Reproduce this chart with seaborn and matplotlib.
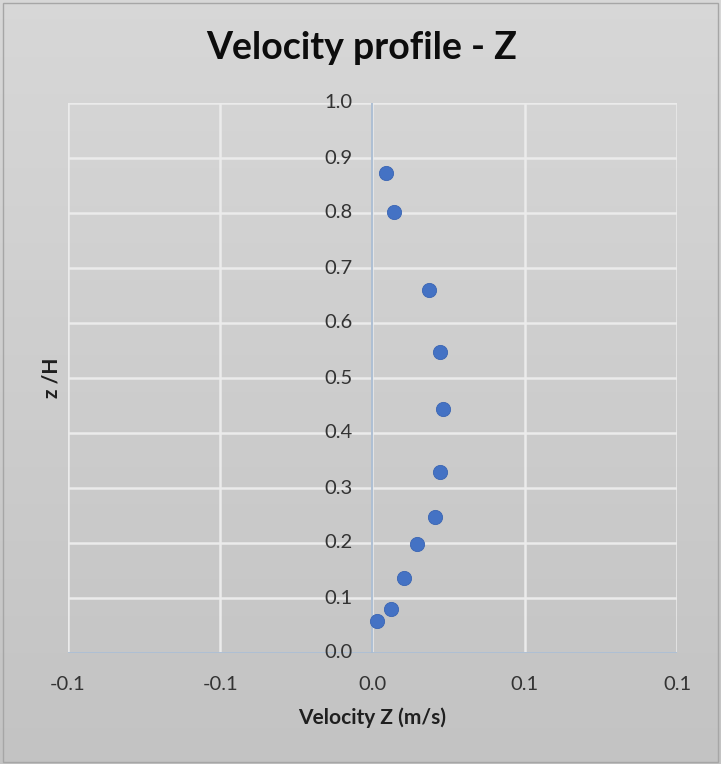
import numpy as np
import pandas as pd
import matplotlib
matplotlib.use("Agg")
import matplotlib.pyplot as plt
import seaborn as sns

# Measured vertical velocity profile
velocity_z = [0.0043, 0.0072, 0.0184, 0.0223, 0.0233, 0.0223, 0.0204, 0.0145, 0.0102, 0.0062, 0.0016]
z_over_h = [0.873, 0.802, 0.660, 0.547, 0.444, 0.329, 0.247, 0.198, 0.136, 0.080, 0.058]

x_ticks = [-0.1, -0.05, 0.0, 0.05, 0.1]
x_tick_labels = ["-0.1", "-0.1", "0.0", "0.1", "0.1"]
y_ticks = [0.0, 0.1, 0.2, 0.3, 0.4, 0.5, 0.6, 0.7, 0.8, 0.9, 1.0]
y_tick_labels = [f"{v:.1f}" for v in y_ticks]

df = pd.DataFrame({"Velocity Z (m/s)": velocity_z, "z /H": z_over_h})

sns.set_theme(style="white")
plt.rcParams["font.family"] = ["Lato", "DejaVu Sans"]

W, H = 721, 764
fig = plt.figure(figsize=(W / 100, H / 100), dpi=100)

# Chart-area background: soft vertical grey gradient
bg = fig.add_axes([0, 0, 1, 1], zorder=-10)
grad = np.linspace(0.845, 0.765, 256).reshape(-1, 1)
bg.imshow(np.dstack([grad, grad, grad]), aspect="auto", extent=[0, 1, 0, 1])
bg.set_axis_off()
fig.patches.append(plt.Rectangle((3 / W, 2 / H), 715 / W, 759 / H, transform=fig.transFigure,
                                 fill=False, edgecolor="#a6a6a6", linewidth=1.0))

left, right, top, bottom = 68, 677, 103, 653
ax = fig.add_axes([left / W, (H - bottom) / H, (right - left) / W, (bottom - top) / H])
ax.patch.set_alpha(0)

sns.scatterplot(data=df, x="Velocity Z (m/s)", y="z /H", ax=ax, s=105,
                color="#4472c4", edgecolor="#3a65b3", linewidth=0.6, zorder=5)

ax.set_xlim(-0.1, 0.1)
ax.set_ylim(0, 1.0)
ax.set_xticks(x_ticks)
ax.set_yticks(y_ticks)
ax.set_xticklabels([])
ax.set_yticklabels([])
ax.tick_params(length=0)
ax.grid(True, color="#ebebeb", linewidth=1.8)
for s in ax.spines.values():
    s.set_visible(False)

axis_col = "#a9bcd2"
ax.axvline(0, color=axis_col, linewidth=1.3, zorder=3)
ax.axhline(0, color=axis_col, linewidth=1.3, zorder=3)

tick_kw = dict(fontsize=14.5, color="#333333")
for v, lab in zip(y_ticks, y_tick_labels):
    ax.annotate(lab, xy=(0, v), xycoords="data", xytext=(-14.5, 0), textcoords="offset points",
                ha="right", va="center", **tick_kw)
for v, lab in zip(x_ticks, x_tick_labels):
    ax.annotate(lab, xy=(v, 0), xycoords="data", xytext=(0, -22.5), textcoords="offset points",
                ha="center", va="center", **tick_kw)

ax.set_xlabel("")
ax.set_ylabel("")
fig.text(372 / W, 1 - 718 / H, "Velocity Z (m/s)", ha="center", va="center",
         fontsize=15, fontweight="bold", color="#1f1f1f")
fig.text(51 / W, 1 - 378 / H, "z /H", ha="center", va="center", rotation=90,
         fontsize=15, fontweight="bold", color="#1f1f1f")
fig.text(362 / W, 1 - 48 / H, "Velocity profile - Z", ha="center", va="center",
         fontsize=27, fontweight="bold", color="#0d0d0d")

fig.savefig("out.png", dpi=100)
